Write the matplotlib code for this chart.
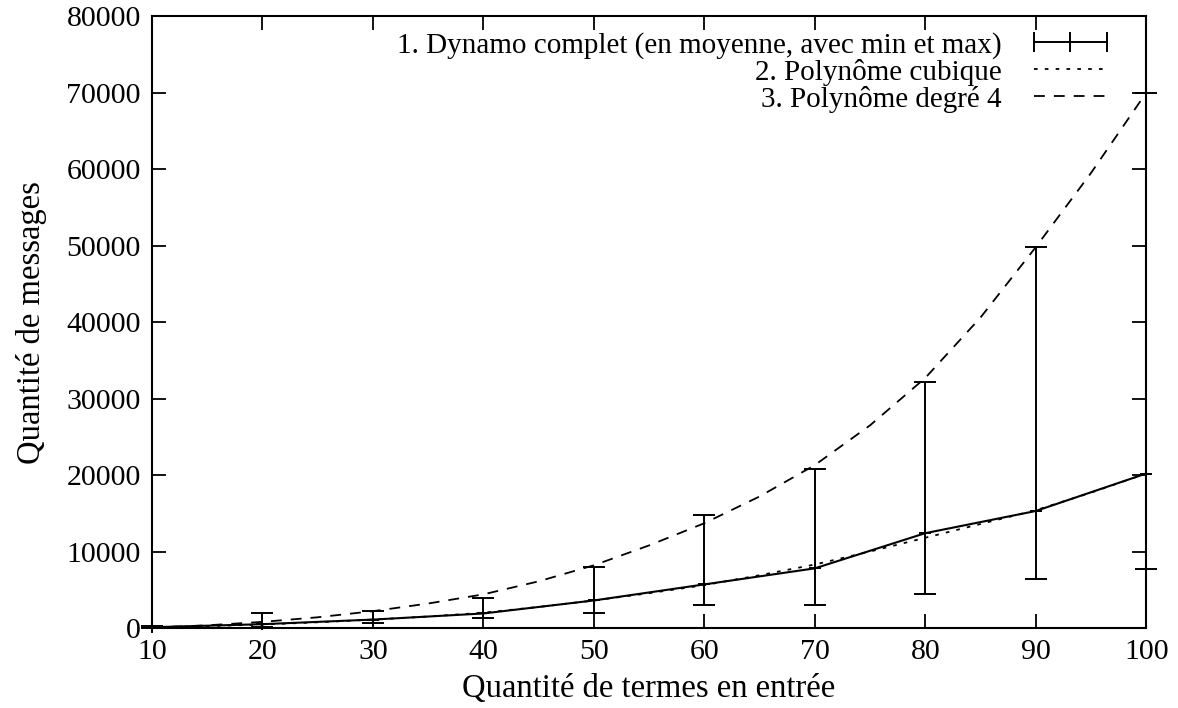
import matplotlib.pyplot as plt
from matplotlib.lines import Line2D

plt.rcParams['font.family'] = ['Liberation Serif', 'DejaVu Serif']

# nombre de termes
termes = [10, 20, 30, 40, 50, 60, 70, 80, 90, 100]
moyenne = [100, 500, 1100, 1900, 3600, 5700, 7800, 12400, 15300, 20200]
mini = [0, 100, 650, 1300, 1950, 3000, 3000, 4500, 6400, 7700]
maxi = [300, 2000, 2200, 3950, 8000, 14800, 20800, 32200, 49800, 70000]

# courbes des polynomes
poly_x = [10, 15, 20, 25, 30, 35, 40, 45, 50, 55, 60, 65, 70, 75, 80, 85, 90, 95, 100]
cubique = [100, 250, 450, 750, 1100, 1500, 2000, 2750, 3600, 4550, 5600, 6900, 8300, 10000, 11800, 13600, 15400, 17700, 20200]
degre4 = [50, 350, 800, 1400, 2200, 3200, 4400, 6100, 8200, 10800, 13700, 17200, 21300, 26500, 32700, 40600, 49800, 59500, 70000]

fig = plt.figure(figsize=(11.78, 7.08), dpi=100)
ax = fig.add_axes([0.129, 0.113, 0.844, 0.864])

err_bas = [m - lo for m, lo in zip(moyenne, mini)]
err_haut = [hi - m for m, hi in zip(moyenne, maxi)]
ax.errorbar(termes, moyenne, yerr=[err_bas, err_haut], fmt='-', color='black',
            lw=1.5, elinewidth=1.4, capsize=8, capthick=1.4,
            marker='+', markersize=9, markeredgewidth=1.4, clip_on=False, zorder=3)
ax.plot(poly_x, cubique, color='black', lw=1.3, dashes=(2, 4))
ax.plot(poly_x, degre4, color='black', lw=1.3, dashes=(6, 5))

ax.set_xlim(10, 100)
ax.set_ylim(0, 80000)
ax.set_xticks(range(10, 101, 10))
ax.set_yticks(range(0, 80001, 10000))
ax.tick_params(direction='in', length=10, width=1.3, labelsize=21.5,
               top=True, right=True, pad=8)
for s in ax.spines.values():
    s.set_linewidth(1.5)

ax.set_xlabel('Quantité de termes en entrée', fontsize=23.5, labelpad=6)
ax.set_ylabel('Quantité de messages', fontsize=23.5, labelpad=14)

h1 = (Line2D([], [], color='black', lw=1.4),
      Line2D([], [], color='black', lw=0, marker='|', markersize=14, markeredgewidth=1.4))
h2 = Line2D([], [], color='black', lw=1.3, dashes=(2, 4))
h3 = Line2D([], [], color='black', lw=1.3, dashes=(6, 5))
ax.legend([h1, h2, h3],
          ['1. Dynamo complet (en moyenne, avec min et max)',
           '2. Polynôme cubique', '3. Polynôme degré 4'],
          loc='upper right', frameon=False, fontsize=21, markerfirst=False,
          numpoints=3, handlelength=3.1, labelspacing=0.0, handletextpad=0.8,
          borderaxespad=0, bbox_to_anchor=(0.981, 0.994))

plt.savefig('out.png')
